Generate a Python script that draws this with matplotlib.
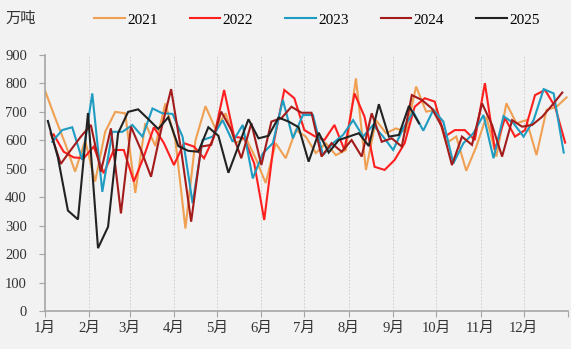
import numpy as np
import pandas as pd
import matplotlib
matplotlib.use("Agg")
import matplotlib.pyplot as plt

plt.rcParams["font.family"] = ["Liberation Serif", "Noto Sans CJK SC", "DejaVu Sans"]

# ---------------------------------------------------------------------------
# Weekly values (万吨), one list per year
# ---------------------------------------------------------------------------
YEARS = ["2021", "2022", "2023", "2024", "2025"]
COLORS = ["#EFA052", "#FF1F1F", "#1E9CC2", "#A31B1B", "#222222"]

v2021 = [775, 680, 590, 490, 600, 455, 630, 700, 695, 415, 660, 580, 730, 600,
         290, 600, 720, 640, 695, 590, 610, 537, 450, 590, 537, 636, 613, 555,
         590, 548, 566, 818, 496, 671, 625, 642, 630, 789, 701, 707, 590, 613,
         493, 578, 683, 543, 730, 660, 671, 548, 707, 718, 751]
v2022 = [621, 560, 540, 537, 578, 484, 566, 566, 455, 543, 646, 590, 513, 590,
         578, 537, 613, 777, 613, 607, 519, 320, 601, 777, 748, 636, 615, 601,
         654, 566, 765, 683, 507, 496, 531, 590, 718, 748, 736, 613, 636, 636,
         601, 801, 566, 678, 613, 636, 759, 777, 718, 592]
v2023 = [595, 636, 646, 531, 765, 419, 630, 630, 654, 613, 712, 695, 693, 613,
         379, 601, 613, 671, 595, 654, 466, 554, 590, 742, 607, 689, 689, 548,
         590, 619, 671, 613, 654, 613, 566, 642, 700, 634, 707, 666, 519, 590,
         625, 689, 537, 685, 660, 613, 671, 780, 765, 557]
v2024 = [625, 517, 566, 613, 654, 490, 642, 343, 648, 566, 472, 636, 780, 566,
         314, 578, 584, 701, 636, 537, 660, 513, 666, 678, 718, 697, 697, 543,
         590, 560, 601, 543, 695, 595, 607, 578, 759, 742, 712, 648, 513, 613,
         584, 730, 654, 543, 671, 648, 654, 683, 724, 768]
v2025 = [668, 540, 353, 322, 696, 221, 296, 625, 700, 709, 675, 640, 681, 580,
         563, 560, 646, 616, 486, 580, 674, 607, 616, 680, 666, 646, 525, 627,
         557, 601, 613, 625, 580, 727, 613, 619, 721, 660]

SERIES = [v2021, v2022, v2023, v2024, v2025]

MONTH_LABELS = [f"{m}月" for m in range(1, 13)]
MONTH_START = [0, 31, 59, 90, 120, 151, 181, 212, 243, 273, 304, 334, 365]

BG = "#F2F2F2"
AXIS_GRAY = "#A6A6A6"


def main():
    fig = plt.figure(figsize=(5.71, 3.49), dpi=100, facecolor=BG)
    ax = fig.add_axes([45 / 571, 1 - 311 / 349, 523 / 571, 256 / 349])
    ax.set_facecolor(BG)

    # weekly data published on Fridays -> x is day of year
    for year, vals, col in zip(YEARS, SERIES, COLORS):
        dates = pd.date_range(f"{year}-01-01", periods=len(vals), freq="W-FRI")
        days = dates.dayofyear.values - 1
        ax.plot(days, vals, color=col, lw=1.5, label=year, solid_joinstyle="miter")

    ax.set_xlim(0, 365)
    ax.set_ylim(0, 900)
    ax.set_yticks(np.arange(0, 901, 100))

    ax.set_xticks(MONTH_START)
    ax.set_xticklabels(MONTH_LABELS + [""])
    for d in MONTH_START[1:-1]:
        ax.axvline(d, color="#C8C8C8", lw=0.6, ls=(0, (2, 2)), zorder=0)

    for side in ["top", "right"]:
        ax.spines[side].set_visible(False)
    for side in ["left", "bottom"]:
        ax.spines[side].set_color(AXIS_GRAY)
        ax.spines[side].set_linewidth(1.2)
    ax.tick_params(axis="both", colors=AXIS_GRAY, labelcolor="#333333",
                   labelsize=10.5, length=4, width=0.8)
    ax.tick_params(axis="y", pad=9)

    fig.text(0.01, 0.945, "万吨", fontsize=11, color="#333333",
             ha="left", va="center")
    fig.legend(loc="center", bbox_to_anchor=(0.555, 0.943), ncol=5,
               frameon=False, fontsize=11, handlelength=2.0,
               columnspacing=2.1, handletextpad=0.15)

    fig.savefig("out.png", dpi=100, facecolor=BG)
    plt.close(fig)


if __name__ == "__main__":
    main()
